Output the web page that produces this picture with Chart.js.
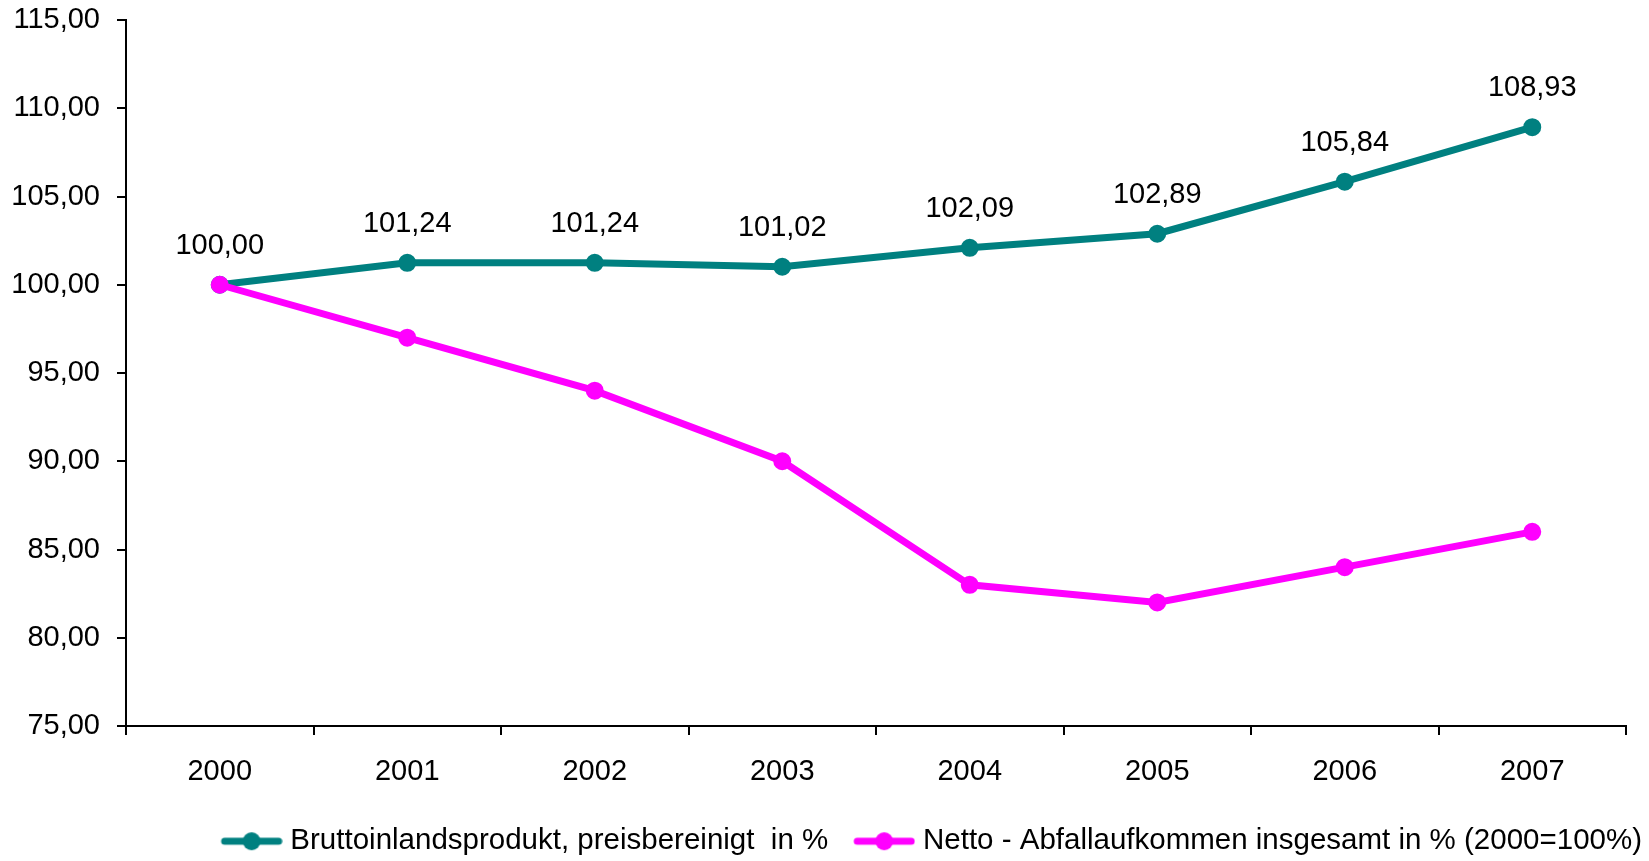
<!DOCTYPE html>
<html>
<head>
<meta charset="utf-8">
<script src="https://cdn.jsdelivr.net/npm/chart.js@4/dist/chart.umd.min.js"></script>
<style>
  html, body { margin: 0; padding: 0; background: #ffffff; }
  #wrap { width: 1649px; height: 861px; }
</style>
</head>
<body>
<div id="wrap"><canvas id="chart" width="1649" height="861"></canvas></div>
<script>
// Jahre und Indexreihen (2000 = 100)
const years = ['2000', '2001', '2002', '2003', '2004', '2005', '2006', '2007'];
const bip = [100.00, 101.24, 101.24, 101.02, 102.09, 102.89, 105.84, 108.93];
const abfall = [100.00, 97.00, 94.00, 90.00, 83.00, 82.00, 84.00, 86.00];
const seriesNames = [
  'Bruttoinlandsprodukt, preisbereinigt  in %',
  'Netto - Abfallaufkommen insgesamt in % (2000=100%)'
];
const yMin = 75, yMax = 115, yStep = 5;

const TEAL = '#008080';
const MAGENTA = '#FF00FF';
const FONT = '"Liberation Sans", Arial, sans-serif';
const TEXT_SIZE = 29;
const LEGEND_SIZE = 29.5;

const fmt = v => v.toFixed(2).replace('.', ',');

// Legend symbol: thick line with a dot in the middle, drawn into a small canvas
const LEG_BOX = 70;
function legendSymbol(color) {
  const c = document.createElement('canvas');
  c.width = LEG_BOX + 14;
  c.height = 22;
  const g = c.getContext('2d');
  const x0 = c.width - 62;
  g.strokeStyle = color;
  g.lineWidth = 7;
  g.lineCap = 'round';
  g.beginPath();
  g.moveTo(x0 + 4, 11);
  g.lineTo(c.width - 4, 11);
  g.stroke();
  g.fillStyle = color;
  g.beginPath();
  g.arc(x0 + 31, 11, 9, 0, Math.PI * 2);
  g.fill();
  return c;
}
const legendSymbols = [legendSymbol(TEAL), legendSymbol(MAGENTA)];

// Value labels above the GDP series
const valueLabels = {
  id: 'valueLabels',
  afterDatasetsDraw(chart) {
    const meta = chart.getDatasetMeta(0);
    const ctx = chart.ctx;
    ctx.save();
    ctx.font = TEXT_SIZE + 'px ' + FONT;
    ctx.fillStyle = '#000';
    ctx.textAlign = 'center';
    ctx.textBaseline = 'middle';
    meta.data.forEach((pt, i) => ctx.fillText(fmt(bip[i]), pt.x, pt.y - 39));
    ctx.restore();
  }
};

const LEGEND_PAD = 10;
const BOTTOM_PAD = -5;
const RIGHT_PAD = -3;
const legendHeight = LEGEND_SIZE + LEGEND_PAD + 10;

Chart.defaults.color = '#000';
Chart.defaults.font.family = FONT;

new Chart(document.getElementById('chart'), {
  type: 'line',
  data: {
    labels: years,
    datasets: [
      {
        label: seriesNames[0],
        data: bip,
        borderColor: TEAL,
        backgroundColor: TEAL,
        borderWidth: 7,
        pointRadius: 8,
        pointBorderWidth: 2,
        pointBackgroundColor: TEAL,
        pointBorderColor: TEAL,
        tension: 0,
        order: 1
      },
      {
        label: seriesNames[1],
        data: abfall,
        borderColor: MAGENTA,
        backgroundColor: MAGENTA,
        borderWidth: 7,
        pointRadius: 8,
        pointBorderWidth: 2,
        pointBackgroundColor: MAGENTA,
        pointBorderColor: MAGENTA,
        tension: 0,
        order: 0
      }
    ]
  },
  options: {
    responsive: false,
    animation: false,
    devicePixelRatio: 1,
    layout: { padding: { left: 0, right: RIGHT_PAD, top: 20, bottom: BOTTOM_PAD } },
    plugins: {
      tooltip: { enabled: false },
      legend: {
        position: 'bottom',
        align: 'end',
        labels: {
          usePointStyle: true,
          pointStyleWidth: LEG_BOX,
          padding: LEGEND_PAD,
          color: '#000',
          font: { size: LEGEND_SIZE, family: FONT },
          sort: (a, b) => a.datasetIndex - b.datasetIndex,
          generateLabels(chart) {
            const items = Chart.defaults.plugins.legend.labels.generateLabels(chart);
            items.forEach(it => { it.pointStyle = legendSymbols[it.datasetIndex]; });
            return items;
          }
        }
      }
    },
    scales: {
      x: {
        type: 'category',
        offset: true,
        grid: {
          offset: true,
          drawOnChartArea: false,
          drawTicks: true,
          tickLength: 9,
          color: '#000',
          lineWidth: 2
        },
        border: { display: true, color: '#000', width: 2 },
        ticks: { font: { size: TEXT_SIZE }, padding: 20, maxRotation: 0 },
        afterFit(s) { s.height = 861 - BOTTOM_PAD - legendHeight - 726; }
      },
      y: {
        type: 'linear',
        position: 'left',
        min: yMin,
        max: yMax,
        grid: {
          drawOnChartArea: false,
          drawTicks: true,
          tickLength: 9,
          color: '#000',
          lineWidth: 2
        },
        border: { display: true, color: '#000', width: 2 },
        ticks: {
          stepSize: yStep,
          font: { size: TEXT_SIZE },
          padding: 17,
          callback: v => fmt(v)
        },
        afterFit(s) {
          s.width = 126;
          s.paddingTop = 0;
          s.paddingBottom = 0;
        }
      },
      yRight: {
        type: 'linear',
        position: 'right',
        display: true,
        grid: { display: false },
        border: { display: false },
        ticks: { display: false },
        afterFit(s) { s.width = 23 - RIGHT_PAD; }
      }
    }
  },
  plugins: [valueLabels]
});
</script>
</body>
</html>
